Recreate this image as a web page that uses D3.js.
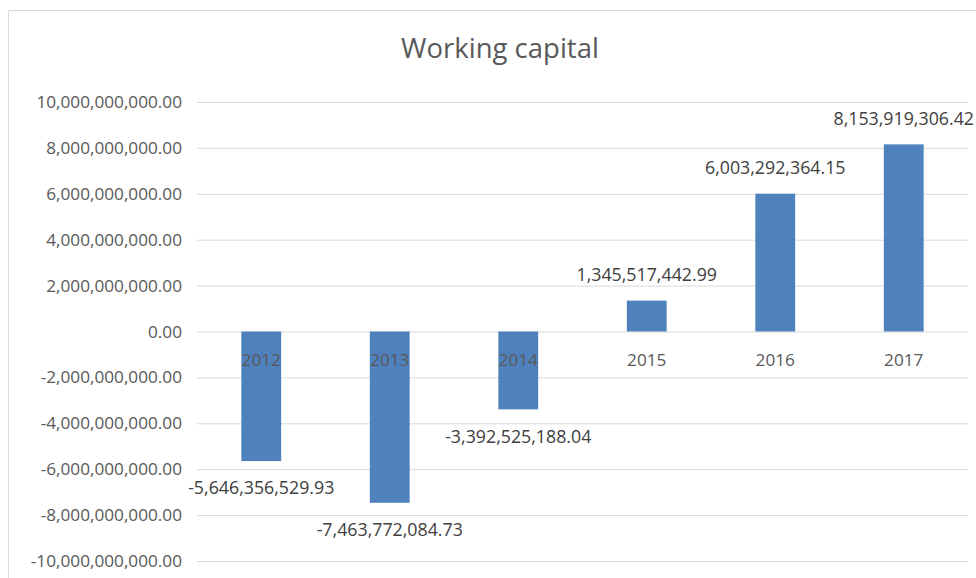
<!DOCTYPE html>
<html><head><meta charset="utf-8">
<script src="https://cdn.jsdelivr.net/npm/d3@7"></script>
<style>body{margin:0;background:#fff}svg{display:block}text{font-family:"Open Sans",sans-serif}</style>
</head><body>
<svg id="c" width="976" height="578"></svg>
<script>
const categories = ["2012","2013","2014","2015","2016","2017"];
const values = [-5646356529.93, -7463772084.73, -3392525188.04, 1345517442.99, 6003292364.15, 8153919306.42];
const tickValues = [10e9, 8e9, 6e9, 4e9, 2e9, 0, -2e9, -4e9, -6e9, -8e9, -10e9];
const title = "Working capital";

const svg = d3.select("#c");
const W = 976, H = 578;
const m = {left:197, right:8, top:102, bottom:17};
const x = d3.scaleBand().domain(categories).range([m.left, W - m.right]).paddingInner(0.69).paddingOuter(0.345);
const y = d3.scaleLinear().domain([-10e9, 10e9]).range([H - m.bottom, m.top]);
const locale = d3.formatLocale({decimal:".", thousands:",", grouping:[3], currency:["",""], minus:"-"});
const fmt = locale.format(",.2f");
const textCol = "#595959";

// frame
svg.append("path").attr("d", `M8.5,${H} V10.5 H${W}`).attr("fill","none").attr("stroke","#d9d9d9").attr("stroke-width",1);

// title
svg.append("text").attr("x", 500).attr("y", 58).attr("text-anchor","middle")
  .attr("font-size", 27.5).attr("fill", textCol).text(title);

// y axis
const yAxis = d3.axisLeft(y).tickValues(tickValues).tickFormat(fmt).tickSize(-(W - m.right - m.left)).tickPadding(15);
const ga = svg.append("g").attr("transform", `translate(${m.left},0)`).call(yAxis);
ga.select(".domain").remove();
ga.selectAll(".tick line").attr("stroke","#d9d9d9");
ga.selectAll(".tick text").attr("font-size", 17.2).attr("fill", textCol).attr("font-family","Open Sans, sans-serif");

// bars
svg.append("g").selectAll("rect").data(values).join("rect")
  .attr("x", (d,i) => x(categories[i]))
  .attr("width", x.bandwidth())
  .attr("y", d => y(Math.max(0,d)))
  .attr("height", d => Math.abs(y(d) - y(0)))
  .attr("fill", "#4f81bd");

// category labels
svg.append("g").selectAll("text").data(categories).join("text")
  .attr("x", d => x(d) + x.bandwidth()/2)
  .attr("y", y(0) + 28)
  .attr("dy","0.35em")
  .attr("text-anchor","middle")
  .attr("font-size", 17.2)
  .attr("fill", textCol)
  .text(d => d);

// data labels
svg.append("g").selectAll("text").data(values).join("text")
  .attr("x", (d,i) => x(categories[i]) + x.bandwidth()/2)
  .attr("y", d => y(d) + (d < 0 ? 27 : -26))
  .attr("dy","0.35em")
  .attr("text-anchor","middle")
  .attr("font-size", 17.8)
  .attr("fill", "#404040")
  .text(d => fmt(d));
</script>
</body></html>
